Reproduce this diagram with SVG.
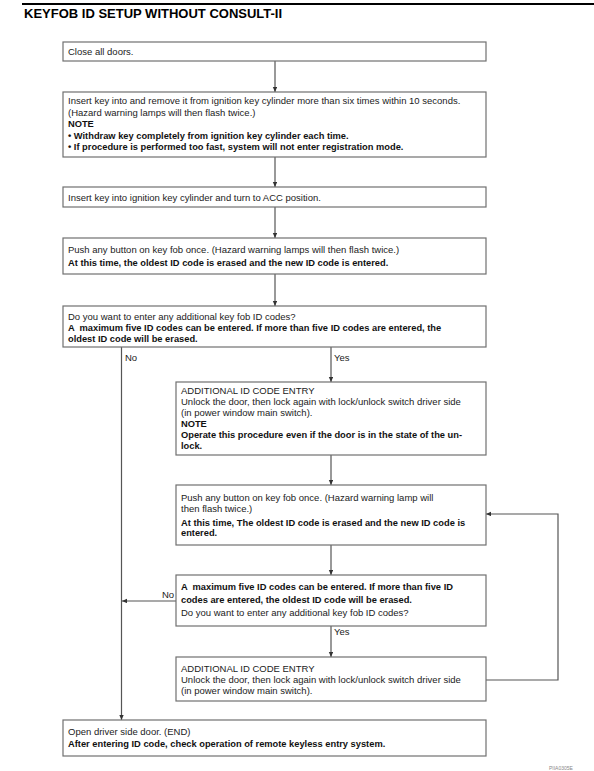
<svg xmlns="http://www.w3.org/2000/svg" width="594" height="771" viewBox="0 0 594 771">
<style>
.box{fill:#fff;stroke:#707070;stroke-width:1.2}
.t{font-family:"Liberation Sans",Arial,sans-serif;font-size:9.5px;fill:#222}
.b{font-family:"Liberation Sans",Arial,sans-serif;font-size:9.3px;font-weight:bold;fill:#111}
.c{fill:none;stroke:#555;stroke-width:1.2}
.title{font-family:"Liberation Sans",Arial,sans-serif;font-size:13px;font-weight:bold;fill:#000}
</style>
<defs>
<marker id="ah" markerWidth="6" markerHeight="5" refX="5" refY="2.2" orient="auto" markerUnits="userSpaceOnUse">
<path d="M0,0 L5,2.2 L0,4.4 z" fill="#333"/>
</marker>
</defs>
<rect width="594" height="771" fill="#fff"/>
<line x1="22" y1="4" x2="594" y2="4" stroke="#000" stroke-width="2"/>
<text class="title" x="24" y="18.3">KEYFOB ID SETUP WITHOUT CONSULT-II</text>

<g id="connectors">
<line class="c" x1="275" y1="61" x2="275" y2="92" marker-end="url(#ah)"/>
<line class="c" x1="275" y1="157" x2="275" y2="187" marker-end="url(#ah)"/>
<line class="c" x1="275" y1="207" x2="275" y2="238" marker-end="url(#ah)"/>
<line class="c" x1="275" y1="274" x2="275" y2="306" marker-end="url(#ah)"/>
<line class="c" x1="121.5" y1="347" x2="121.5" y2="720" marker-end="url(#ah)"/>
<line class="c" x1="331" y1="347" x2="331" y2="382" marker-end="url(#ah)"/>
<line class="c" x1="331" y1="455" x2="331" y2="485" marker-end="url(#ah)"/>
<line class="c" x1="331" y1="545" x2="331" y2="575" marker-end="url(#ah)"/>
<line class="c" x1="331" y1="626" x2="331" y2="657" marker-end="url(#ah)"/>
<line class="c" x1="176" y1="601" x2="122" y2="601" marker-end="url(#ah)"/>
<polyline class="c" points="486,680 558,680 558,514 486,514" marker-end="url(#ah)"/>
<text class="t" x="125" y="361">No</text>
<text class="t" x="334" y="361">Yes</text>
<text class="t" x="162" y="598">No</text>
<text class="t" x="334" y="635">Yes</text>
</g>

<g id="n1">
<rect class="box" x="63" y="42" width="423" height="19"/>
<text class="t" x="68" y="55">Close all doors.</text>
</g>

<g id="n2">
<rect class="box" x="63" y="92" width="423" height="65"/>
<text class="t" x="68" y="104">Insert key into and remove it from ignition key cylinder more than six times within 10 seconds.</text>
<text class="t" x="68" y="115.5">(Hazard warning lamps will then flash twice.)</text>
<text class="b" x="68" y="127">NOTE</text>
<text class="b" x="68" y="138.5">• Withdraw key completely from ignition key cylinder each time.</text>
<text class="b" x="68" y="150">• If procedure is performed too fast, system will not enter registration mode.</text>
</g>

<g id="n3">
<rect class="box" x="63" y="187" width="423" height="20"/>
<text class="t" x="68" y="200.5">Insert key into ignition key cylinder and turn to ACC position.</text>
</g>

<g id="n4">
<rect class="box" x="63" y="238" width="423" height="36"/>
<text class="t" x="68" y="253">Push any button on key fob once. (Hazard warning lamps will then flash twice.)</text>
<text class="b" x="68" y="265.5">At this time, the oldest ID code is erased and the new ID code is entered.</text>
</g>

<g id="n5">
<rect class="box" x="63" y="306" width="423" height="41"/>
<text class="t" x="68" y="319.5">Do you want to enter any additional key fob ID codes?</text>
<text class="b" x="68" y="331" xml:space="preserve">A  maximum five ID codes can be entered. If more than five ID codes are entered, the</text>
<text class="b" x="68" y="342">oldest ID code will be erased.</text>
</g>

<g id="n6">
<rect class="box" x="176" y="382" width="310" height="73"/>
<text class="t" x="181" y="393.5">ADDITIONAL ID CODE ENTRY</text>
<text class="t" x="181" y="404.5">Unlock the door, then lock again with lock/unlock switch driver side</text>
<text class="t" x="181" y="415.5">(in power window main switch).</text>
<text class="b" x="181" y="426.5">NOTE</text>
<text class="b" x="181" y="438">Operate this procedure even if the door is in the state of the un-</text>
<text class="b" x="181" y="449">lock.</text>
</g>

<g id="n7">
<rect class="box" x="176" y="485" width="310" height="60"/>
<text class="t" x="181" y="501">Push any button on key fob once. (Hazard warning lamp will</text>
<text class="t" x="181" y="512">then flash twice.)</text>
<text class="b" x="181" y="525.5">At this time, The oldest ID code is erased and the new ID code is</text>
<text class="b" x="181" y="536">entered.</text>
</g>

<g id="n8">
<rect class="box" x="176" y="575" width="310" height="51"/>
<text class="b" x="181" y="590" xml:space="preserve">A  maximum five ID codes can be entered. If more than five ID</text>
<text class="b" x="181" y="602.5">codes are entered, the oldest ID code will be erased.</text>
<text class="t" x="181" y="615.5">Do you want to enter any additional key fob ID codes?</text>
</g>

<g id="n9">
<rect class="box" x="176" y="657" width="310" height="44"/>
<text class="t" x="181" y="672">ADDITIONAL ID CODE ENTRY</text>
<text class="t" x="181" y="683">Unlock the door, then lock again with lock/unlock switch driver side</text>
<text class="t" x="181" y="694">(in power window main switch).</text>
</g>

<g id="n10">
<rect class="box" x="63" y="720" width="423" height="36"/>
<text class="t" x="68" y="734.5">Open driver side door. (END)</text>
<text class="b" x="68" y="747">After entering ID code, check operation of remote keyless entry system.</text>
</g>

<text x="549" y="770" style="font-family:'Liberation Sans',Arial,sans-serif;font-size:5px;fill:#888">PIIA0305E</text>
</svg>
